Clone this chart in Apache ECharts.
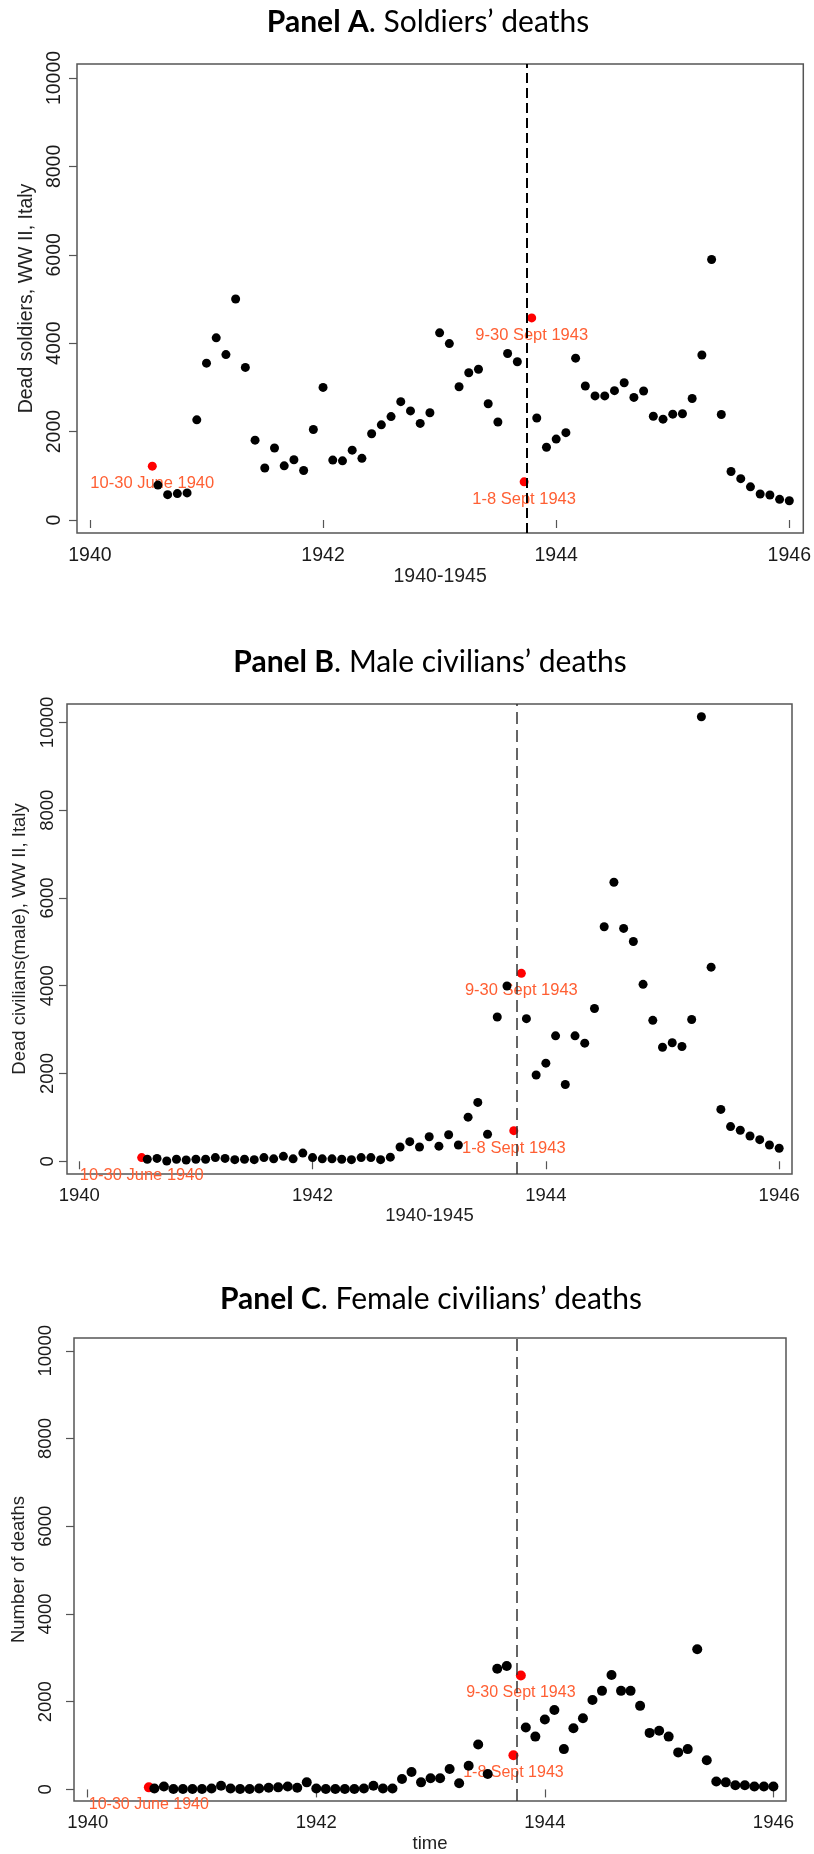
<!DOCTYPE html>
<html>
<head>
<meta charset="utf-8">
<script src="https://cdn.jsdelivr.net/npm/echarts@6/dist/echarts.min.js"></script>
<style>
  html, body { margin: 0; background: #fff; }
  #chart { width: 814px; height: 1854px; }
</style>
</head>
<body>
<div id="chart"></div>
<script>
// monthly deaths, Jul 1940 - Dec 1945 (Sept 1943 is split into two red points below)
const soldiers = [
  790, 573, 597, 613, 2266, 3549,
  4121, 3742, 5000, 3452, 1807, 1177, 1629, 1226, 1363, 1121, 2048, 3000,
  1355, 1339, 1581, 1395, 1952, 2153, 2339, 2677, 2468, 2186, 2427, 4234,
  3992, 3016, 3331, 3411, 2629, 2218, 3766, 3581,
  2307, 1645, 1831,
  1976, 3661, 3032, 2807, 2807, 2927, 3105, 2774, 2920, 2347, 2282, 2395,
  2403, 2750, 3734, 5895, 2387, 1097, 936, 750, 589, 565, 468, 436
];
const maleCivilians = [
  47, 65, 5, 47, 28, 47,
  47, 84, 65, 37, 47, 37, 84, 56, 112, 56, 186, 84,
  56, 56, 47, 37, 84, 84, 37, 93, 326, 447, 326, 559,
  344, 605, 372, 1006, 1341, 615, 3287, 3994,
  3250, 1965, 2235,
  2858, 1750, 2858, 2691, 3482, 5344, 6359, 5307, 5009, 4032, 3212, 2598,
  2700, 2616, 3231, 10130, 4423, 1182, 791, 708, 577, 493, 372, 298
];
const femaleCivilians = [
  19, 66, 9, 9, 9, 9,
  19, 85, 19, 9, 9, 19, 38, 47, 66, 38, 161, 19,
  9, 9, 9, 9, 19, 85, 19, 19, 237, 398, 161, 256,
  256, 464, 142, 540, 1024, 351, 2749, 2815,
  1412, 1204, 1592,
  1811, 919, 1393, 1621, 2038, 2247, 2607, 2247, 2247, 1905, 1289, 1337,
  1204, 844, 919, 3194, 664, 180, 161, 95, 95, 66, 66, 66
];

// the highlighted (red) periods
const splitTimes = [1940.535, 1943.725, 1943.79];
const splitLabels = ['10-30 June 1940', '1-8 Sept 1943', '9-30 Sept 1943'];
const soldiersSplit = [1218, 863, 4573];
const maleSplit = [84, 698, 4283];
const femaleSplit = [47, 777, 2597];

const yearTicks = [1940, 1942, 1944, 1946];
const deathTicks = [0, 2000, 4000, 6000, 8000, 10000];
const armistice = 1943.75;

// time of each monthly point (month/12 convention, Dec = next year .0)
const monthTimes = [];
for (let y = 1940; y <= 1945; y++) {
  for (let m = 1; m <= 12; m++) {
    if (y === 1940 && m < 7) continue;
    if (y === 1943 && m === 9) continue;
    monthTimes.push(y + m / 12);
  }
}

const panels = [
  {
    title: ['Panel A', '. Soldiers’ deaths'], titleX: 428, titleY: 22,
    grid: { left: 77, top: 64, width: 727, height: 469 },
    x: [1939.889, 1946.12], y: [-294, 10317],
    xName: '1940-1945', yName: 'Dead soldiers, WW II, Italy',
    values: soldiers, split: soldiersSplit,
    fs: 19.5, labelFs: 16.5, dot: 9, dash: [10, 5], dashW: 2, dashC: '#000',
    xGap: 31, yGap: 36, yMargin: 12, xMargin: 13
  },
  {
    title: ['Panel B', '. Male civilians’ deaths'], titleX: 430, titleY: 662,
    grid: { left: 67, top: 704, width: 725, height: 470 },
    x: [1939.895, 1946.11], y: [-290, 10420],
    xName: '1940-1945', yName: 'Dead civilians(male), WW II, Italy',
    values: maleCivilians, split: maleSplit,
    fs: 18.5, labelFs: 16.5, dot: 9, dash: [12, 6], dashW: 1.5, dashC: '#333',
    xGap: 32, yGap: 38, yMargin: 10, xMargin: 12
  },
  {
    title: ['Panel C', '. Female civilians’ deaths'], titleX: 431, titleY: 1299,
    grid: { left: 74, top: 1338, width: 712, height: 464 },
    x: [1939.88, 1946.11], y: [-264, 10291],
    xName: 'time', yName: 'Number of deaths',
    values: femaleCivilians, split: femaleSplit,
    fs: 18.5, labelFs: 16, dot: 10, dash: [12, 6], dashW: 1.5, dashC: '#333',
    xGap: 33, yGap: 36, yMargin: 19, xMargin: 12
  }
];

const font = "'Liberation Sans', Arial, sans-serif";
const plain = (v) => String(v);
const option = {
  animation: false,
  backgroundColor: '#fff',
  grid: [], xAxis: [], yAxis: [], series: [], graphic: []
};

panels.forEach((p, i) => {
  option.graphic.push({
    type: 'text', x: p.titleX, y: p.titleY,
    style: {
      text: '{b|' + p.title[0] + '}{n|' + p.title[1] + '}',
      rich: {
        b: { fontFamily: 'Lato', fontSize: 30, fontWeight: 'bold', fill: '#000' },
        n: { fontFamily: 'Lato', fontSize: 30, fill: '#000' }
      },
      align: 'center', verticalAlign: 'middle'
    }
  });
  option.grid.push(Object.assign({
    show: true, borderColor: '#555', borderWidth: 1.5, backgroundColor: 'transparent'
  }, p.grid));
  option.xAxis.push({
    gridIndex: i, type: 'value', min: p.x[0], max: p.x[1],
    name: p.xName, nameLocation: 'middle', nameGap: p.xGap,
    nameTextStyle: { fontFamily: font, fontSize: p.fs, color: '#222' },
    axisLine: { show: false },
    axisTick: { show: true, length: 8, lineStyle: { color: '#555', width: 1.2 }, customValues: yearTicks },
    axisLabel: { fontFamily: font, fontSize: p.fs, color: '#1a1a1a', margin: p.xMargin,
      customValues: yearTicks, formatter: plain },
    splitLine: { show: false }
  });
  option.yAxis.push({
    gridIndex: i, type: 'value', min: p.y[0], max: p.y[1],
    name: p.yName, nameLocation: 'middle', nameGap: p.yGap,
    nameTextStyle: { fontFamily: font, fontSize: p.fs, color: '#222' },
    axisLine: { show: false },
    axisTick: { show: true, length: 8, lineStyle: { color: '#555', width: 1.2 }, customValues: deathTicks },
    axisLabel: { fontFamily: font, fontSize: p.fs, color: '#1a1a1a', rotate: 90, margin: p.yMargin,
      customValues: deathTicks, formatter: plain },
    splitLine: { show: false }
  });
  // dashed armistice line
  option.series.push({
    type: 'line', xAxisIndex: i, yAxisIndex: i, data: [], z: 1,
    markLine: {
      silent: true, symbol: 'none', label: { show: false },
      lineStyle: { type: p.dash, color: p.dashC, width: p.dashW },
      data: [{ xAxis: armistice }]
    }
  });
  option.series.push({
    type: 'scatter', xAxisIndex: i, yAxisIndex: i, z: 2,
    symbolSize: p.dot, itemStyle: { color: '#ff0000', opacity: 1 },
    label: {
      show: true, position: 'bottom', distance: 4.5,
      fontFamily: font, fontSize: p.labelFs, color: '#ff5f33',
      formatter: (d) => splitLabels[d.dataIndex]
    },
    labelLayout: { hideOverlap: false },
    data: splitTimes.map((t, k) => [t, p.split[k]])
  });
  option.series.push({
    type: 'scatter', xAxisIndex: i, yAxisIndex: i, z: 3,
    symbolSize: p.dot, itemStyle: { color: '#000', opacity: 1 },
    data: monthTimes.map((t, k) => [t, p.values[k]])
  });
});

const chart = echarts.init(document.getElementById('chart'));
chart.setOption(option);
</script>
</body>
</html>
